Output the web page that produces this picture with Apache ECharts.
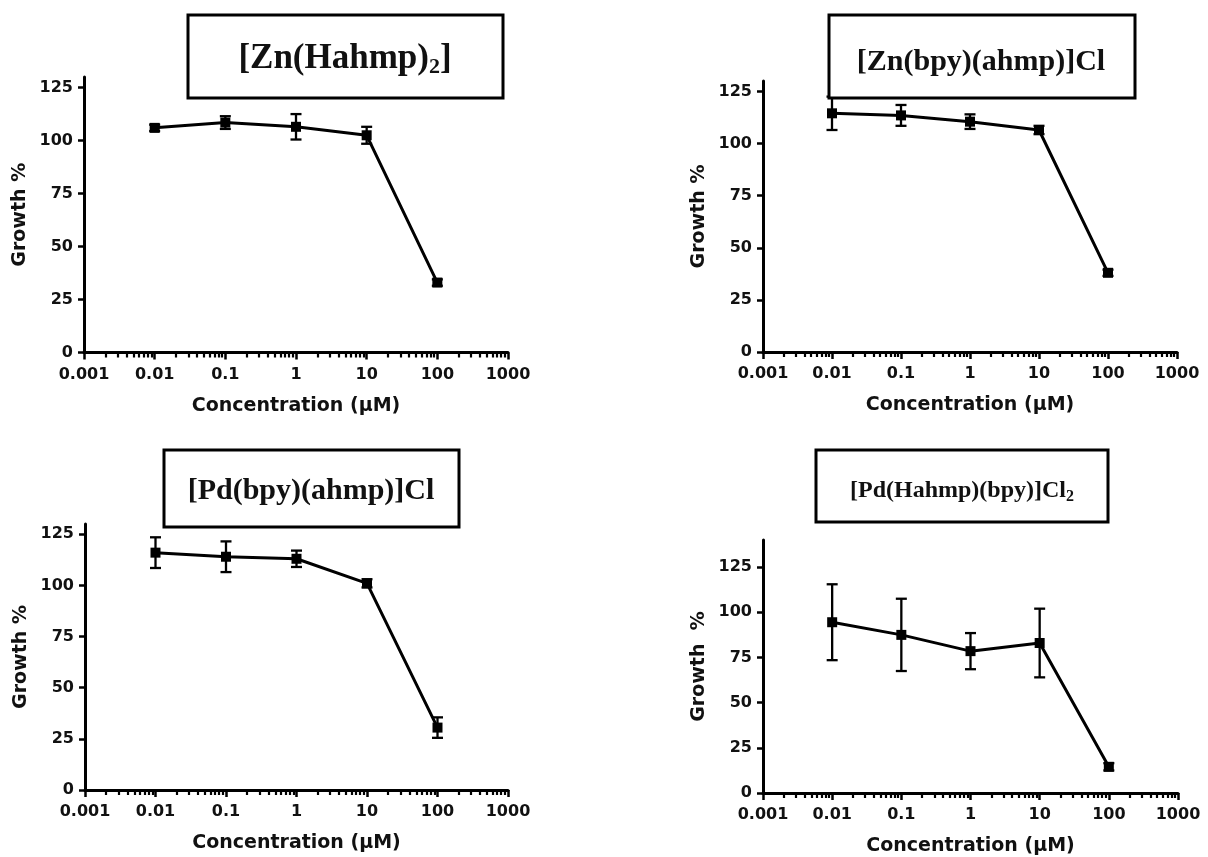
<!DOCTYPE html>
<html><head><meta charset="utf-8">
<script src="https://cdn.jsdelivr.net/npm/echarts@6/dist/echarts.min.js"></script>
<style>html,body{margin:0;padding:0;background:#fff}#c{width:1208px;height:857px}</style>
</head><body><div id="c"></div>
<script>
// ---- data ----
const concentrations = [0.01, 0.1, 1, 10, 100];
const znHahmpMean = [106, 108.5, 106.5, 102.5, 33];
const znHahmpErr  = [1.5, 3, 6, 4, 1.5];
const znBpyMean = [114.5, 113.5, 110.5, 106.5, 38];
const znBpyErr  = [8, 5, 3.5, 2, 1.5];
const pdBpyMean = [116, 114, 113, 101, 30.5];
const pdBpyErr  = [7.5, 7.5, 4, 2, 5];
const pdHahmpMean = [94.5, 87.5, 78.5, 83, 14.5];
const pdHahmpErr  = [21, 20, 10, 19, 2];
const xTickValues = [0.001, 0.01, 0.1, 1, 10, 100, 1000];
const xTickLabels = ['0.001', '0.01', '0.1', '1', '10', '100', '1000'];
const minorMultipliers = [2, 3, 4, 5, 6, 7, 8, 9];
const yTickValues = [0, 25, 50, 75, 100, 125];
const yTickLabels = ['0', '25', '50', '75', '100', '125'];
const yMaxValues = [130, 130, 130, 140];
const panelTitles = [
  '{t|[Zn(Hahmp)}{s|2}{t|]}',
  '{t|[Zn(bpy)(ahmp)]Cl}',
  '{t|[Pd(bpy)(ahmp)]Cl}',
  '{t|[Pd(Hahmp)(bpy)]Cl}{s|2}'
];
const yAxisNames = ['Growth %', 'Growth %', 'Growth %', 'Growth  %'];
const xAxisName = 'Concentration (μM)';

// ---- layout (positions / styles only) ----
const grids = [
  {left: 84, top: 77, width: 424, height: 275.5},
  {left: 763, top: 81, width: 414, height: 271},
  {left: 85, top: 524, width: 423, height: 266},
  {left: 763, top: 540, width: 415, height: 253}
];
const boxes = [
  {x: 188, y: 15, w: 315, h: 83, cx: 345, ty: 39, fs: 35, ss: 22},
  {x: 829, y: 15, w: 306, h: 83, cx: 981, ty: 45, fs: 30, ss: 20},
  {x: 164, y: 450, w: 295, h: 77, cx: 311, ty: 474, fs: 30, ss: 20},
  {x: 816, y: 450, w: 292, h: 72, cx: 962, ty: 477, fs: 24, ss: 16}
];
const means = [znHahmpMean, znBpyMean, pdBpyMean, pdHahmpMean];
const errs = [znHahmpErr, znBpyErr, pdBpyErr, pdHahmpErr];

const minorValues = [];
xTickValues.slice(0, -1).forEach(d => minorMultipliers.forEach(m => minorValues.push(+(d * m).toPrecision(6))));

const sansBold = {fontFamily: 'DejaVu Sans', fontWeight: 'bold', color: '#111'};
const option = {
  animation: false,
  backgroundColor: '#fff',
  grid: [], xAxis: [], yAxis: [], series: [], title: [], graphic: []
};

grids.forEach((g, i) => {
  option.grid.push(Object.assign({outerBoundsMode: 'none', containLabel: false}, g));
  option.xAxis.push({
    type: 'log', logBase: 10, gridIndex: i, min: 0.001, max: 1000, position: 'bottom',
    name: xAxisName, nameLocation: 'middle', nameGap: 44,
    nameTextStyle: Object.assign({fontSize: 19}, sansBold),
    axisLine: {lineStyle: {color: '#000', width: 3}},
    axisTick: {show: true, length: 7, lineStyle: {color: '#000', width: 2.5}, customValues: xTickValues},
    axisLabel: Object.assign({fontSize: 16, margin: 14, customValues: xTickValues,
      formatter: v => { const k = xTickValues.findIndex(t => Math.abs(Math.log10(t) - Math.log10(v)) < 1e-6); return k >= 0 ? xTickLabels[k] : ''; }}, sansBold),
    splitLine: {show: false}, minorTick: {show: false}
  });
  option.yAxis.push({
    type: 'value', gridIndex: i, min: 0, max: yMaxValues[i],
    name: yAxisNames[i], nameLocation: 'middle', nameRotate: 90, nameGap: 54,
    nameTextStyle: Object.assign({fontSize: 19}, sansBold),
    axisLine: {show: true, lineStyle: {color: '#000', width: 3}},
    axisTick: {show: true, length: 6, lineStyle: {color: '#000', width: 2.5}, customValues: yTickValues},
    axisLabel: Object.assign({fontSize: 16, margin: 11, customValues: yTickValues,
      formatter: v => { const k = yTickValues.indexOf(v); return k >= 0 ? yTickLabels[k] : ''; }}, sansBold),
    splitLine: {show: false}
  });
  option.series.push({
    type: 'line', xAxisIndex: i, yAxisIndex: i, z: 3,
    data: concentrations.map((c, k) => [c, means[i][k]]),
    symbol: 'rect', symbolSize: 10,
    itemStyle: {color: '#000'},
    lineStyle: {color: '#000', width: 3}
  });
  option.series.push({
    type: 'custom', xAxisIndex: i, yAxisIndex: i, z: 4,
    data: concentrations.map((c, k) => [c, means[i][k] - errs[i][k], means[i][k] + errs[i][k]]),
    encode: {x: 0, y: [1, 2]},
    renderItem: (params, api) => {
      const x = api.value(0);
      const lo = api.coord([x, api.value(1)]);
      const hi = api.coord([x, api.value(2)]);
      const hw = 5.5;
      const st = {stroke: '#000', lineWidth: 2.3};
      return {type: 'group', children: [
        {type: 'line', shape: {x1: lo[0], y1: lo[1], x2: hi[0], y2: hi[1]}, style: st},
        {type: 'line', shape: {x1: lo[0] - hw, y1: lo[1], x2: lo[0] + hw, y2: lo[1]}, style: st},
        {type: 'line', shape: {x1: hi[0] - hw, y1: hi[1], x2: hi[0] + hw, y2: hi[1]}, style: st}
      ]};
    }
  });
  const b = boxes[i];
  option.graphic.push({
    type: 'rect', z: 50, shape: {x: b.x, y: b.y, width: b.w, height: b.h},
    style: {fill: '#fff', stroke: '#000', lineWidth: 3}
  });
  option.title.push({
    text: panelTitles[i], left: b.cx, top: b.ty, textAlign: 'center', padding: 0, z: 60,
    textStyle: {rich: {
      t: {fontFamily: 'Liberation Serif', fontWeight: 'bold', fontSize: b.fs, lineHeight: b.fs + 4, color: '#111'},
      s: {fontFamily: 'Liberation Serif', fontWeight: 'bold', fontSize: b.ss, lineHeight: b.ss, verticalAlign: 'bottom', color: '#111'}
    }}
  });
});
// minor ticks: extra log x-axes without line/labels
grids.forEach((g, i) => {
  option.xAxis.push({
    type: 'log', logBase: 10, gridIndex: i, min: 0.001, max: 1000, position: 'bottom',
    axisLine: {show: false},
    axisTick: {show: true, length: 5, lineStyle: {color: '#000', width: 2.2}, customValues: minorValues},
    axisLabel: {show: false}, splitLine: {show: false}
  });
});

const chart = echarts.init(document.getElementById('c'), null, {renderer: 'canvas'});
chart.setOption(option);
</script>
</body></html>
